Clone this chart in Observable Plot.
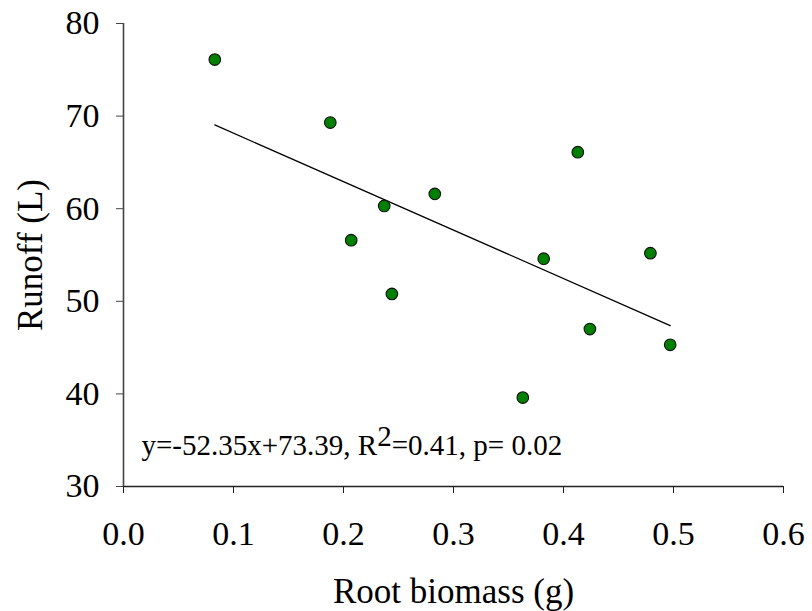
<!DOCTYPE html>
<html><head><meta charset="utf-8">
<script src="https://cdn.jsdelivr.net/npm/d3@7"></script>
<script src="https://cdn.jsdelivr.net/npm/@observablehq/plot@0.6"></script>
<style>
html,body{margin:0;padding:0;background:#fff;}
svg text{font-family:'Liberation Serif','Times New Roman',Times,serif;font-variant-numeric:normal;}
</style>
</head><body><div id="chart"></div>
<script>
const rootBiomass = [0.083, 0.188, 0.207, 0.237, 0.244, 0.283, 0.363, 0.382, 0.413, 0.424, 0.479, 0.497];
const runoff      = [76.1, 69.3, 56.6, 60.3, 50.8, 61.6, 39.6, 54.6, 66.1, 47.0, 55.2, 45.3];
const slope = -52.35;
const intercept = 73.39;
const xTicks = [0, 0.1, 0.2, 0.3, 0.4, 0.5, 0.6];
const yTicks = [30, 40, 50, 60, 70, 80];
const annotationParts = ["y=-52.35x+73.39, R", "2", "=0.41, p= 0.02"];
const xLabel = "Root biomass (g)";
const yLabel = "Runoff (L)";

const points = rootBiomass.map((x, i) => ({x, y: runoff[i]}));
const fit = d3.extent(rootBiomass).map(x => ({x, y: slope * x + intercept}));
const annotation = annotationParts.join("");

const serif = "'Liberation Serif', 'Times New Roman', Times, serif";

const plot = Plot.plot({
  width: 812,
  height: 611,
  marginLeft: 123,
  marginRight: 29,
  marginTop: 23,
  marginBottom: 125,
  x: {domain: [0, 0.6]},
  y: {domain: [30, 80]},
  style: {fontFamily: serif, fontSize: "34px", color: "#000", background: "#fff", overflow: "visible"},
  marks: [
    Plot.axisX({ticks: xTicks, tickFormat: d3.format(".1f"), tickSize: 7, tickPadding: 27, label: null, fontSize: 34, fontFamily: serif, fontVariant: "normal", stroke: "#222"}),
    Plot.axisY({ticks: yTicks, tickSize: 7, tickPadding: 17, label: null, fontSize: 34, fontFamily: serif, fontVariant: "normal", stroke: "#444"}),
    Plot.ruleX([0], {stroke: "#444", strokeWidth: 1.6}),
    Plot.ruleY([30], {stroke: "#222", strokeWidth: 1.3}),
    Plot.line(fit, {x: "x", y: "y", stroke: "#000", strokeWidth: 1.3}),
    Plot.dot(points, {x: "x", y: "y", r: 5.8, fill: "#008000", stroke: "#111", strokeWidth: 1.1}),
    Plot.text([annotation], {frameAnchor: "bottom-left", dx: 18, dy: -32, text: d => d, textAnchor: "start", lineAnchor: "bottom", fontSize: 29, fontFamily: serif, fill: "#000"}),
    Plot.text([xLabel], {frameAnchor: "bottom", dy: 116, text: d => d, textAnchor: "middle", lineAnchor: "bottom", fontSize: 35, fontFamily: serif, fill: "#000"}),
    Plot.text([yLabel], {frameAnchor: "left", dx: -93, rotate: -90, text: d => d, textAnchor: "middle", lineAnchor: "middle", fontSize: 35, fontFamily: serif, fill: "#000"})
  ]
});

// superscript for R²
plot.querySelectorAll("text").forEach(t => {
  if (t.textContent === annotation) {
    t.textContent = annotationParts[0];
    const ns = "http://www.w3.org/2000/svg";
    const sup = document.createElementNS(ns, "tspan");
    sup.setAttribute("dy", "-0.28em");
    sup.textContent = annotationParts[1];
    const rest = document.createElementNS(ns, "tspan");
    rest.setAttribute("dy", "0.28em");
    rest.textContent = annotationParts[2];
    t.appendChild(sup);
    t.appendChild(rest);
  }
});

document.getElementById("chart").appendChild(plot);
</script>
</body></html>
